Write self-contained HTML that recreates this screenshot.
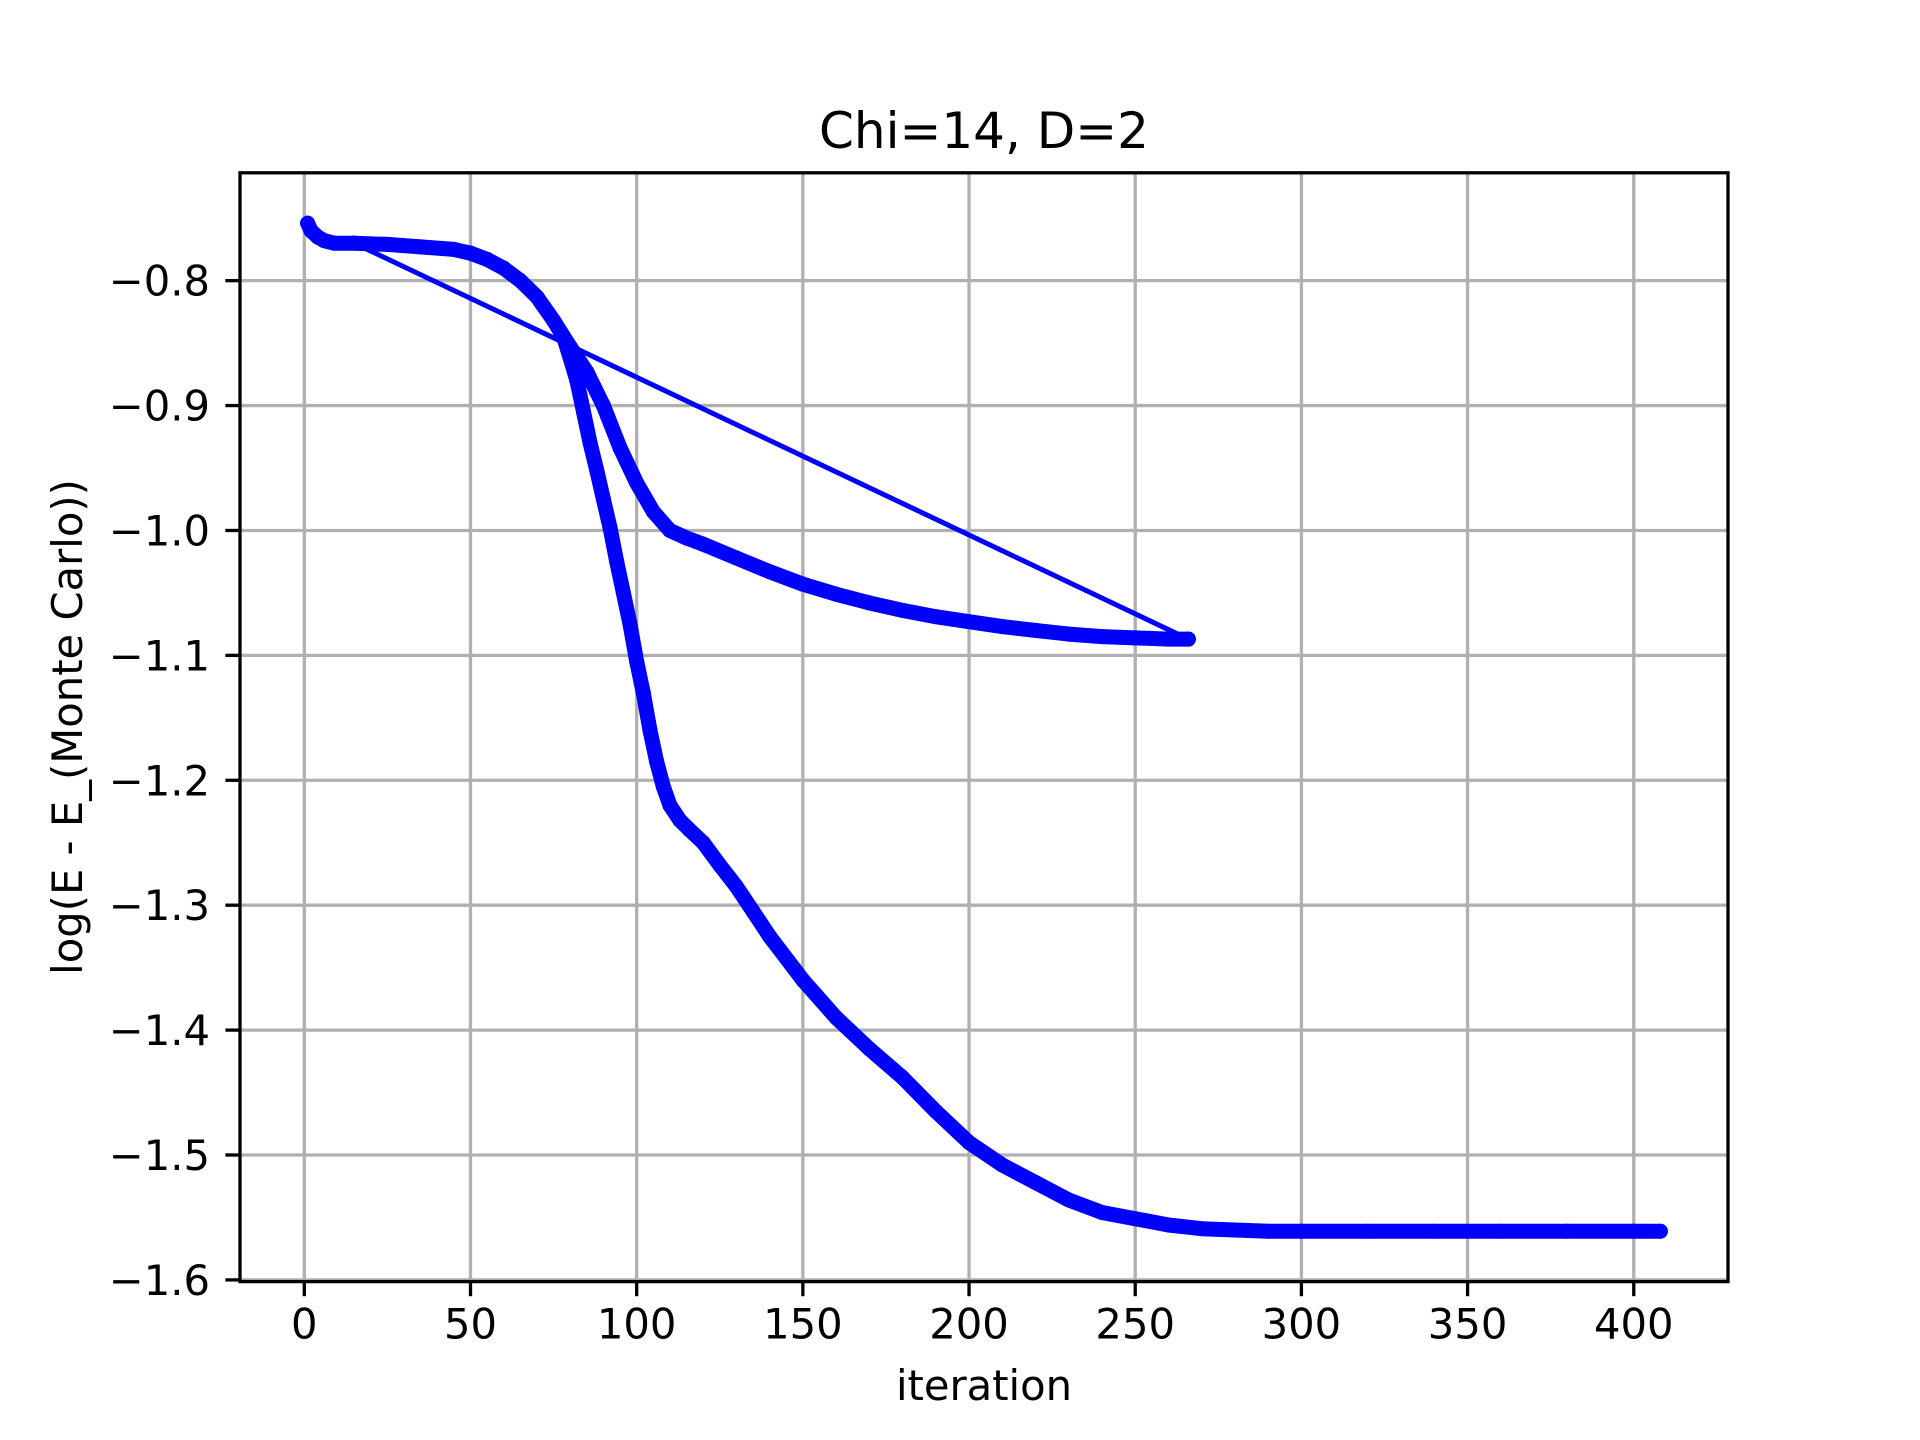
<!DOCTYPE html>
<html><head><meta charset="utf-8"><title>Chi=14, D=2</title>
<style>
html,body{margin:0;padding:0;background:#fff;}
svg{display:block;}
text{font-family:"DejaVu Sans","Liberation Sans",sans-serif;fill:#000;}
</style></head>
<body>
<svg id="chart" width="1920" height="1440" viewBox="0 0 1920 1440" xmlns="http://www.w3.org/2000/svg">
<rect x="0" y="0" width="1920" height="1440" fill="#fff"/>
<g id="grid"></g>
<g id="series"></g>
<rect x="240" y="172.8" width="1488" height="1108.8" fill="none" stroke="#000" stroke-width="3.3"/>
<g id="ticks"></g>
<text x="984" y="148" font-size="50" text-anchor="middle">Chi=14, D=2</text>
<text x="984" y="1400" font-size="41.7" text-anchor="middle">iteration</text>
<text transform="translate(82,727) rotate(-90)" font-size="41.7" text-anchor="middle">log(E - E_(Monte Carlo))</text>
</svg>
<script>
const xTicks = [0, 50, 100, 150, 200, 250, 300, 350, 400];
const yTicks = [-0.8, -0.9, -1.0, -1.1, -1.2, -1.3, -1.4, -1.5, -1.6];
const yTickLabels = ["\u22120.8","\u22120.9","\u22121.0","\u22121.1","\u22121.2","\u22121.3","\u22121.4","\u22121.5","\u22121.6"];
const runAIter = [1,2,4,6,9,15,25,35,45,50,55,60,65,70,75,80,85,90,95,100,105,110,115,120,130,140,150,160,170,180,190,200,210,220,230,240,250,260,266];
const runAVal = [-0.754,-0.760,-0.765,-0.768,-0.770,-0.770,-0.771,-0.773,-0.775,-0.778,-0.783,-0.790,-0.800,-0.813,-0.832,-0.853,-0.873,-0.900,-0.934,-0.962,-0.985,-1.000,-1.006,-1.011,-1.022,-1.033,-1.043,-1.051,-1.058,-1.064,-1.069,-1.073,-1.077,-1.080,-1.083,-1.085,-1.086,-1.087,-1.087];
const runBIter = [15,25,35,45,50,55,60,65,70,75,78,80,82,84,86,88,90,92,94,96,98,100,102,104,106,108,110,113,116,120,125,130,135,140,150,160,170,180,190,200,210,220,230,240,250,260,270,280,290,300,320,340,360,380,400,408];
const runBVal = [-0.770,-0.771,-0.773,-0.775,-0.778,-0.783,-0.790,-0.800,-0.813,-0.832,-0.845,-0.862,-0.880,-0.905,-0.930,-0.952,-0.975,-0.998,-1.025,-1.050,-1.075,-1.105,-1.130,-1.160,-1.185,-1.205,-1.220,-1.232,-1.240,-1.250,-1.268,-1.285,-1.305,-1.325,-1.360,-1.390,-1.415,-1.438,-1.465,-1.490,-1.508,-1.522,-1.536,-1.546,-1.551,-1.556,-1.559,-1.560,-1.561,-1.561,-1.561,-1.561,-1.561,-1.561,-1.561,-1.561];

const NS = "http://www.w3.org/2000/svg";
const L = 240, R = 1728, T = 172.8, B = 1281.6;
const allX = runAIter.concat(runBIter), allY = runAVal.concat(runBVal);
const xmn = Math.min(...allX), xmx = Math.max(...allX), xm = (xmx - xmn) * 0.05;
const ymn = Math.min(...allY), ymx = Math.max(...allY), ym = (ymx - ymn) * 0.05;
const x0 = xmn - xm, x1 = xmx + xm, y0 = ymn - ym, y1 = ymx + ym;
function sx(v){ return L + (v - x0) / (x1 - x0) * (R - L); }
function sy(v){ return B - (v - y0) / (y1 - y0) * (B - T); }
function mk(tag, attrs, parent){ const e = document.createElementNS(NS, tag); for (const k in attrs) e.setAttribute(k, attrs[k]); parent.appendChild(e); return e; }

const grid = document.getElementById('grid'), ticks = document.getElementById('ticks'), series = document.getElementById('series');
xTicks.forEach((t) => {
  const X = sx(t);
  const g = mk('line', {x1:X, x2:X, y1:T, y2:B, stroke:'#b0b0b0', 'stroke-width':3.3}, grid);
  
  
  const tk = mk('line', {x1:X, x2:X, y1:B, y2:B+14.6, stroke:'#000', 'stroke-width':3.3}, ticks);
  
  
  const tx = mk('text', {x:X, y:B+57, 'font-size':41.7, 'text-anchor':'middle'}, ticks);
  tx.textContent = String(t);
  
  
});
yTicks.forEach((t, i) => {
  const Y = sy(t);
  const g = mk('line', {x1:L, x2:R, y1:Y, y2:Y, stroke:'#b0b0b0', 'stroke-width':3.3}, grid);
  
  
  const tk = mk('line', {x1:L-14.6, x2:L, y1:Y, y2:Y, stroke:'#000', 'stroke-width':3.3}, ticks);
  
  
  const tx = mk('text', {x:L-30, y:Y+15, 'font-size':41.7, 'text-anchor':'end'}, ticks);
  tx.textContent = yTickLabels[i];
  
  
});

const pts = allX.map((x, i) => [sx(x), sy(allY[i])]);
let d = '';
for (let i = 0; i < pts.length; i++) {
  const jump = i > 0 && allX[i] < allX[i-1];
  d += (i === 0 || jump ? 'M' : 'L') + pts[i][0].toFixed(1) + ',' + pts[i][1].toFixed(1) + ' ';
}
const band = mk('path', {d:d, fill:'none', stroke:'#0000ff', 'stroke-width':15, 'stroke-linejoin':'round', 'stroke-linecap':'round'}, series);


const line = mk('polyline', {points: pts.map(p => p[0].toFixed(1) + ',' + p[1].toFixed(1)).join(' '), fill:'none', stroke:'#0000ff', 'stroke-width':5}, series);


pts.forEach((p) => {
  const c = mk('circle', {cx:p[0], cy:p[1], r:7.5, fill:'#0000ff'}, series);
  
  
});
</script>
</body></html>
